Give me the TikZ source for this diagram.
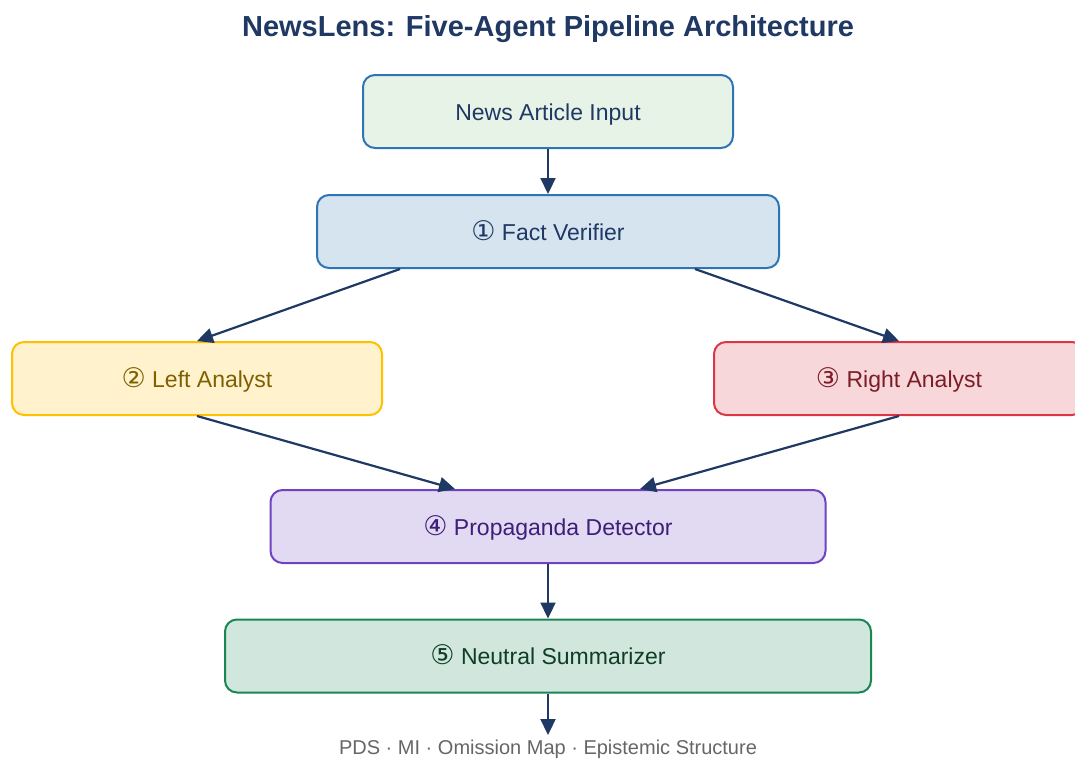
\documentclass[tikz,border=0pt]{standalone}
\usepackage{fontspec}
\setmainfont{Liberation Sans}
\newfontfamily\circfont{DejaVu Sans}
\usetikzlibrary{arrows.meta}
\definecolor{navy}{HTML}{1F3864}
\definecolor{bluebd}{HTML}{2E75B6}
\definecolor{inputfill}{HTML}{E8F3E8}
\definecolor{factfill}{HTML}{D6E4F0}
\definecolor{leftfill}{HTML}{FFF2CC}
\definecolor{leftbd}{HTML}{FFC000}
\definecolor{lefttxt}{HTML}{7F6000}
\definecolor{rightfill}{HTML}{F8D7DA}
\definecolor{rightbd}{HTML}{DC3545}
\definecolor{righttxt}{HTML}{7B1C26}
\definecolor{propfill}{HTML}{E2D9F3}
\definecolor{propbd}{HTML}{6F42C1}
\definecolor{proptxt}{HTML}{3D1E78}
\definecolor{sumfill}{HTML}{D1E7DD}
\definecolor{sumbd}{HTML}{198754}
\definecolor{sumtxt}{HTML}{0F3D26}
\definecolor{foot}{HTML}{666666}
\newcommand{\circnum}[1]{{\circfont\fontsize{27}{27}\selectfont #1}}
\begin{document}
\begin{tikzpicture}[x=1pt, y=-1pt,
    agent/.style={draw, line width=2pt, rounded corners=12pt, minimum height=73pt,
      inner sep=0pt, text height=17pt, text depth=0pt, font=\fontsize{23}{27}\selectfont},
    flow/.style={draw=navy, line width=2.2pt, -{Triangle[length=16pt,width=15pt]}}]
  \useasboundingbox (0,0) rectangle (1075,758);

  \node[font=\bfseries\fontsize{29}{34}\selectfont, text=navy] (T) at (548,29)
    {NewsLens: Five-Agent Pipeline Architecture};

  \node[agent, draw=bluebd, fill=inputfill, text=navy, minimum width=370pt] (In) at (548,111.5)
    {News Article Input};
  \node[agent, draw=bluebd, fill=factfill, text=navy, minimum width=462pt] (F1) at (548,231.5)
    {\circnum{①} Fact Verifier};
  \node[agent, draw=leftbd, fill=leftfill, text=lefttxt, minimum width=370pt] (L2) at (197,378.5)
    {\circnum{②} Left Analyst};
  \node[agent, draw=rightbd, fill=rightfill, text=righttxt, minimum width=370pt] (R3) at (899,378.5)
    {\circnum{③} Right Analyst};
  \node[agent, draw=propbd, fill=propfill, text=proptxt, minimum width=555pt] (P4) at (548,526.5)
    {\circnum{④} Propaganda Detector};
  \node[agent, draw=sumbd, fill=sumfill, text=sumtxt, minimum width=646pt] (S5) at (548,656)
    {\circnum{⑤} Neutral Summarizer};

  \coordinate (Out) at (548,735);
  \node[font=\fontsize{20}{23}\selectfont, text=foot, inner sep=0pt] (Ft) at (548,749)
    {PDS · MI · Omission Map · Epistemic Structure};

  \draw[flow] (In) -- (F1);
  \draw[flow] ([xshift=-148pt]F1.south) -- (L2.north);
  \draw[flow] ([xshift=147pt]F1.south) -- (R3.north);
  \draw[flow] (L2.south) -- ([xshift=-93pt]P4.north);
  \draw[flow] (R3.south) -- ([xshift=92pt]P4.north);
  \draw[flow] (P4) -- (S5);
  \draw[flow] (S5.south) -- (Out);
\end{tikzpicture}
\end{document}
